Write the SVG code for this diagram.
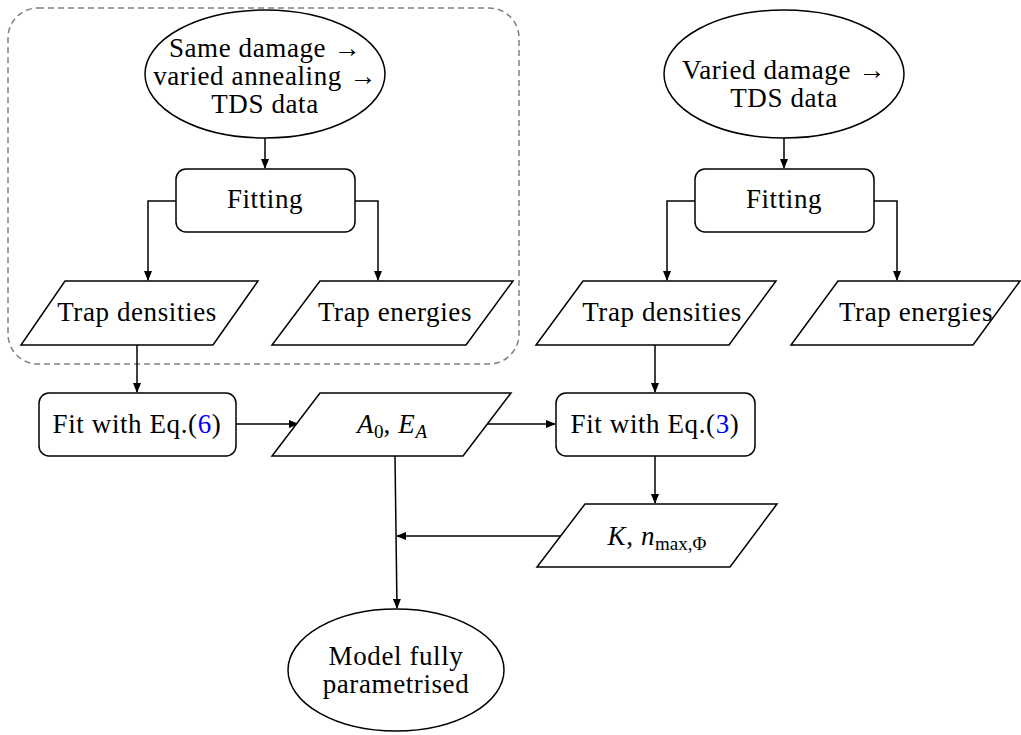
<svg xmlns="http://www.w3.org/2000/svg" width="1021" height="735" viewBox="0 0 1021 735">
<defs>
<marker id="ah" markerWidth="10" markerHeight="8" refX="9" refY="4" orient="auto" markerUnits="userSpaceOnUse">
<path d="M0,0 L10,4 L0,8 Z" fill="#000"/>
</marker>
</defs>
<style>
.s{fill:#fff;stroke:#000;stroke-width:1.5}
.t{font-family:"Liberation Serif","DejaVu Serif",serif;font-size:27px;letter-spacing:0.6px;fill:#000;text-anchor:middle}
.m{font-style:italic}
.sub{font-size:19px;letter-spacing:0}
.c{fill:none;stroke:#000;stroke-width:1.5;marker-end:url(#ah)}
.b{fill:#0000ff}
</style>
<rect x="8" y="8" width="511" height="356" rx="30" ry="30" fill="none" stroke="#808080" stroke-width="1.5" stroke-dasharray="6,4"/>
<g id="connectors">
<path class="c" d="M265,138 L265,168"/>
<path class="c" d="M176,201 L148,201 L148,280"/>
<path class="c" d="M355,201 L378,201 L378,280"/>
<path class="c" d="M784,138 L784,168"/>
<path class="c" d="M695,201 L667,201 L667,280"/>
<path class="c" d="M874,201 L897,201 L897,280"/>
<path class="c" d="M137,345 L137,392"/>
<path class="c" d="M236,424 L298,424"/>
<path class="c" d="M487,424 L555,424"/>
<path class="c" d="M655,345 L655,392"/>
<path class="c" d="M655,456 L655,503"/>
<path class="c" d="M561,536 L397,536"/>
<path class="c" d="M395,456 L397,608"/>
</g>
<g id="n1"><ellipse class="s" cx="265" cy="74" rx="120" ry="64"/>
<text class="t" x="265" y="57">Same damage →</text>
<text class="t" x="265" y="85">varied annealing →</text>
<text class="t" x="265" y="113">TDS data</text></g>
<g id="n2"><ellipse class="s" cx="784" cy="74" rx="120" ry="64"/>
<text class="t" x="784" y="79">Varied damage →</text>
<text class="t" x="784" y="107">TDS data</text></g>
<g id="n3"><rect class="s" x="176" y="169" width="179" height="63" rx="10"/>
<text class="t" x="265" y="208">Fitting</text></g>
<g id="n4"><rect class="s" x="695" y="169" width="179" height="63" rx="10"/>
<text class="t" x="784" y="208">Fitting</text></g>
<g id="n5"><polygon class="s" points="65,281 258,281 213,345 21,345"/>
<text class="t" x="137" y="321">Trap densities</text></g>
<g id="n6"><polygon class="s" points="320,281 513,281 466,345 272,345"/>
<text class="t" x="395" y="321">Trap energies</text></g>
<g id="n7"><polygon class="s" points="583,281 776,281 729,345 536,345"/>
<text class="t" x="662" y="321">Trap densities</text></g>
<g id="n8"><polygon class="s" points="838,281 1020,281 973,345 791,345"/>
<text class="t" x="916" y="321">Trap energies</text></g>
<g id="n9"><rect class="s" x="39" y="393" width="197" height="63" rx="10"/>
<text class="t" x="137" y="433">Fit with Eq.(<tspan class="b">6</tspan>)</text></g>
<g id="n10"><polygon class="s" points="320,393 511,393 463,456 272,456"/>
<text class="t" x="392" y="433"><tspan class="m">A</tspan><tspan class="sub" dy="5">0</tspan><tspan dy="-5">, </tspan><tspan class="m">E</tspan><tspan class="sub m" dy="5">A</tspan></text></g>
<g id="n11"><rect class="s" x="556" y="393" width="199" height="63" rx="10"/>
<text class="t" x="655" y="433">Fit with Eq.(<tspan class="b">3</tspan>)</text></g>
<g id="n12"><polygon class="s" points="585,504 777,504 730,567 537,567"/>
<text class="t" x="657" y="545"><tspan class="m">K</tspan>, <tspan class="m">n</tspan><tspan class="sub" dy="5">max,Φ</tspan></text></g>
<g id="n13"><ellipse class="s" cx="396" cy="670" rx="108" ry="61"/>
<text class="t" x="396" y="665">Model fully</text>
<text class="t" x="396" y="693">parametrised</text></g>
</svg>
